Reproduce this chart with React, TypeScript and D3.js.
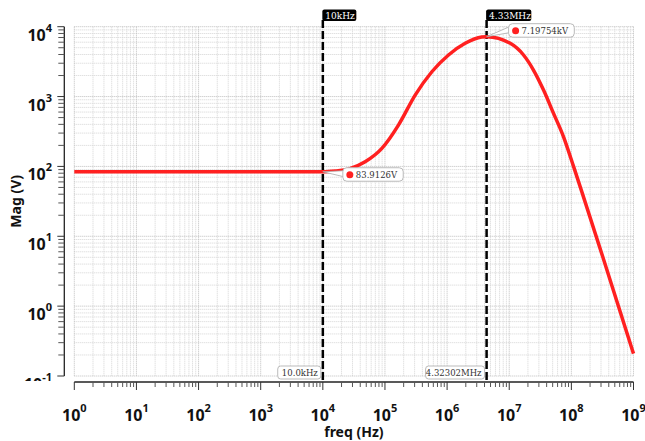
import * as d3 from 'd3';
import React from 'react';

// Bode magnitude plot, two cursor markers
const freqHz = [1, 10, 100, 1000, 3000, 10000, 16000, 25820, 47970, 89125, 164800, 306200, 568900,
  1054000, 1954000, 3600000, 4323020, 10380000, 16980000, 24550000, 35650000, 51640000, 74820000,
  108400000, 158500000, 316200000, 562300000, 1000000000];
const magV = [83.91, 83.91, 83.91, 83.91, 83.91, 83.9126, 86.2, 91.4, 116.4, 181.1, 390.8, 1050, 2265,
  3936, 5781, 7120, 7197.54, 5781, 3936, 2399, 1239, 574.1, 265.5, 100, 35.5, 5.25, 1.047, 0.209];

const xDecades = [0, 1, 2, 3, 4, 5, 6, 7, 8, 9];
const yDecades = [-1, 0, 1, 2, 3, 4];

const markerFreqs = [10000, 4323020];
const markerTopLabels = ['10kHz', '4.33MHz'];
const markerBottomLabels = ['10.0kHz', '4.32302MHz'];
const markerValues = [83.9126, 7197.54];
const markerValueLabels = ['83.9126V', '7.19754kV'];

const W = 645;
const H = 441;
const plot = { left: 74.3, right: 633.5, top: 26.7, bottom: 376 };
const axisX = 64.3; // y axis line sits left of plot
const axisY = 382; // x axis line sits below plot

const red = '#ff2020';
const sans = '"Noto Sans", "Open Sans", sans-serif';
const serif = '"DejaVu Serif", serif';

export default function App() {
  const x = d3.scaleLog().domain([1, 1e9]).range([plot.left, plot.right]);
  const y = d3.scaleLog().domain([0.1, 1e4]).range([plot.bottom, plot.top]);

  const minorX: number[] = [];
  xDecades.slice(0, -1).forEach(d => { for (let k = 2; k < 10; k++) minorX.push(k * Math.pow(10, d)); });
  const minorY: number[] = [];
  yDecades.slice(0, -1).forEach(d => { for (let k = 2; k < 10; k++) minorY.push(k * Math.pow(10, d)); });

  const line = d3.line<number>()
    .x((_, i) => x(freqHz[i]))
    .y(d => y(d))
    .curve(d3.curveMonotoneX);

  return (
    <svg width={W} height={H} style={{ position: 'absolute', left: 0, top: 0, background: '#fff' }}>
      <defs>
        <clipPath id="ylab"><rect x={0} y={0} width={axisX} height={axisY - 1} /></clipPath>
      </defs>

      {/* grid */}
      <g stroke="#d4d4d4" strokeWidth={1} strokeDasharray="1,1">
        {minorX.map(f => <line key={'gx' + f} x1={x(f)} x2={x(f)} y1={plot.top} y2={plot.bottom} />)}
        {minorY.map(v => <line key={'gy' + v} x1={plot.left} x2={plot.right} y1={y(v)} y2={y(v)} />)}
      </g>
      <g stroke="#bdbdbd" strokeWidth={1} strokeDasharray="1,1">
        {xDecades.map(d => <line key={'GX' + d} x1={x(10 ** d)} x2={x(10 ** d)} y1={plot.top} y2={plot.bottom} />)}
        {yDecades.map(d => <line key={'GY' + d} x1={plot.left} x2={plot.right} y1={y(10 ** d)} y2={y(10 ** d)} />)}
      </g>

      {/* y axis */}
      <line x1={axisX} x2={axisX} y1={plot.top} y2={plot.bottom} stroke="#222" strokeWidth={1.3} />
      <g stroke="#555" strokeWidth={1}>
        {minorY.map(v => <line key={'ty' + v} x1={axisX - 6} x2={axisX} y1={y(v)} y2={y(v)} />)}
        {yDecades.map(d => <line key={'TY' + d} x1={axisX - 7} x2={axisX} y1={y(10 ** d)} y2={y(10 ** d)} stroke="#333" />)}
      </g>
      <g clipPath="url(#ylab)" fontFamily={sans} fontWeight="bold" fill="#111">
        {yDecades.map(d => (
          <text key={'ly' + d} x={52} y={y(10 ** d) + 14} textAnchor="end" fontSize={16}>
            10<tspan fontSize={11} dy={-9}>{d}</tspan>
          </text>
        ))}
      </g>
      <text transform={`translate(21,${(plot.top + plot.bottom) / 2}) rotate(-90)`} textAnchor="middle"
        fontFamily={sans} fontWeight="bold" fontSize={14} fill="#111">Mag (V)</text>

      {/* x axis */}
      <line x1={plot.left} x2={plot.right} y1={axisY} y2={axisY} stroke="#222" strokeWidth={1.3} />
      <g stroke="#555" strokeWidth={1}>
        {minorX.map(f => <line key={'tx' + f} x1={x(f)} x2={x(f)} y1={axisY} y2={axisY + 5} />)}
        {xDecades.map(d => <line key={'TX' + d} x1={x(10 ** d)} x2={x(10 ** d)} y1={axisY} y2={axisY + 8} stroke="#333" />)}
      </g>
      <g fontFamily={sans} fontWeight="bold" fill="#111">
        {xDecades.map(d => (
          <text key={'lx' + d} x={x(10 ** d)} y={421} textAnchor="middle" fontSize={16}>
            10<tspan fontSize={11} dy={-9}>{d}</tspan>
          </text>
        ))}
      </g>
      <text x={(plot.left + plot.right) / 2} y={437} textAnchor="middle" fontFamily={sans}
        fontWeight="bold" fontSize={14} fill="#111">freq (Hz)</text>

      {/* markers */}
      {markerFreqs.map((f, i) => {
        const mx = x(f);
        const tw = markerTopLabels[i].length * 5.6 + 6;
        const bw = markerBottomLabels[i].length * 5.3 + 6;
        return (
          <g key={'m' + i}>
            <line x1={mx} x2={mx} y1={20} y2={axisY - 2} stroke="#000" strokeWidth={2.5} strokeDasharray="8,3" />
            <rect x={mx - 0.5} y={9.5} width={tw} height={11.5} rx={2} fill="#000" />
            <text x={mx + 2.5} y={18.5} fontFamily={serif} fontSize={9} fill="#fff">{markerTopLabels[i]}</text>
            <rect x={mx - 2 - bw} y={366} width={bw} height={13} rx={3} fill="#fff" stroke="#bbb" />
            <text x={mx - 5} y={376} textAnchor="end" fontFamily={serif} fontSize={8.5} fill="#333">{markerBottomLabels[i]}</text>
          </g>
        );
      })}

      {/* curve */}
      <path d={line(magV) || ''} fill="none" stroke={red} strokeWidth={3.5} strokeLinejoin="round" />

      {/* value callouts */}
      {markerFreqs.map((f, i) => {
        const px = x(f);
        const py = y(markerValues[i]);
        const bx = px + (i === 0 ? 20 : 22);
        const by = py + (i === 0 ? -4 : -13);
        const bw = markerValueLabels[i].length * 5.3 + 18;
        return (
          <g key={'v' + i}>
            <path d={`M${px},${py}L${bx + 1},${by + 3}L${bx + 1},${by + 9}Z`} fill="#fff" stroke="#aaa" strokeWidth={0.8} />
            <rect x={bx} y={by} width={bw} height={13.5} rx={4} fill="#fff" stroke="#bbb" />
            <circle cx={bx + 7} cy={by + 7} r={3.5} fill={red} />
            <text x={bx + 13} y={by + 10.5} fontFamily={serif} fontSize={8.5} fill="#333">{markerValueLabels[i]}</text>
          </g>
        );
      })}
    </svg>
  );
}
